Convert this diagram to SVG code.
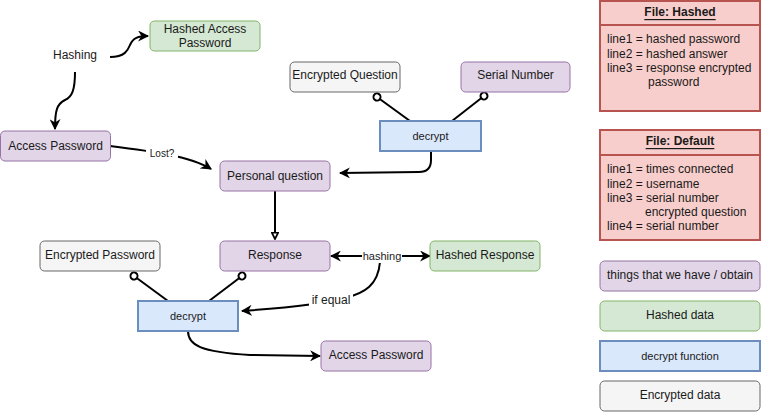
<svg xmlns="http://www.w3.org/2000/svg" width="762" height="412" viewBox="0 0 762 412">
<style>
text{font-family:"Liberation Sans",Arial,sans-serif;font-size:12px;fill:#1a1a1a;text-anchor:middle;dominant-baseline:central}
.purple{fill:#e1d5e7;stroke:#9673a6;stroke-width:1}
.green{fill:#d5e8d4;stroke:#82b366;stroke-width:1}
.gray{fill:#f5f5f5;stroke:#666666;stroke-width:1}
.blue{fill:#dae8fc;stroke:#6c8ebf;stroke-width:2}
.red{fill:#f8cecc;stroke:#b85450;stroke-width:2}
.edge{fill:none;stroke:#000;stroke-width:2}
.lbl{fill:#fff;stroke:none}
.sm{font-size:11px}
.left{text-anchor:start}
.title{font-weight:bold;text-decoration:underline}
</style>
<defs>
<marker id="arr" viewBox="0 0 10 10" refX="9" refY="5" markerWidth="11" markerHeight="11" markerUnits="userSpaceOnUse" orient="auto-start-reverse">
<path d="M0,0 L10,5 L0,10 L3,5 z" fill="#000"/>
</marker>
<marker id="open" viewBox="0 0 10 10" refX="9" refY="5" markerWidth="8" markerHeight="8" markerUnits="userSpaceOnUse" orient="auto">
<path d="M1,1 L9,5 L1,9 z" fill="#fff" stroke="#000" stroke-width="2.2"/>
</marker>
<marker id="oval" viewBox="0 0 10 10" refX="5" refY="5" markerWidth="10" markerHeight="10" markerUnits="userSpaceOnUse" orient="auto">
<circle cx="5" cy="5" r="3.5" fill="#fff" stroke="#000" stroke-width="2"/>
</marker>
</defs>
<g id="connectors">
<path class="edge" d="M110,57 C125,57 128,50 130,45 C133,38 138,36 148,36" marker-end="url(#arr)"/>
<path class="edge" d="M75,72 C75,90 72,97 65,100 C57,104 55,110 55,129" marker-end="url(#arr)"/>
<path class="edge" d="M110,146 C150,151 190,156 211,169" marker-end="url(#arr)"/>
<rect class="lbl" x="146" y="146" width="32" height="14"/>
<text x="162" y="153" class="sm" style="font-size:10px">Lost?</text>
<path class="edge" d="M431,151 L431,160 Q431,172 419,172 L340,173" marker-end="url(#arr)"/>
<path class="edge" d="M275,191 L275,239" marker-end="url(#open)"/>
<path class="edge" d="M410,121 L377,97" marker-end="url(#oval)"/>
<path class="edge" d="M452,121 L484,96" marker-end="url(#oval)"/>
<path class="edge" d="M168,301 L134,276" marker-end="url(#oval)"/>
<path class="edge" d="M209,301 L242,276" marker-end="url(#oval)"/>
<path class="edge" d="M380,262 C378,285 365,293 345,298 C320,305 270,309 242,311" marker-end="url(#arr)"/>
<path class="edge" d="M331,256 L430,256" marker-start="url(#arr)" marker-end="url(#arr)"/>
<rect class="lbl" x="362" y="249" width="40" height="14"/>
<text x="382" y="256" class="sm">hashing</text>
<rect class="lbl" x="309" y="293" width="44" height="15"/>
<text x="331" y="300">if equal</text>
<path class="edge" d="M188,331 C188,345 200,352 250,355 L320,356" marker-end="url(#arr)"/>
</g>
<g id="hashing"><text x="75" y="55">Hashing</text></g>
<g id="hashed-access-password"><rect class="green" x="150" y="21" width="110" height="30" rx="4.5"/><text x="205" y="28.5">Hashed Access</text><text x="205" y="42.5">Password</text></g>
<g id="access-password"><rect class="purple" x="0.5" y="131" width="110" height="30" rx="4.5"/><text x="55.5" y="145.5">Access Password</text></g>
<g id="personal-question"><rect class="purple" x="220" y="161" width="110" height="30" rx="4.5"/><text x="275" y="175.5">Personal question</text></g>
<g id="encrypted-question"><rect class="gray" x="290" y="62" width="110" height="30" rx="4.5"/><text x="345" y="74.5">Encrypted Question</text></g>
<g id="serial-number"><rect class="purple" x="461" y="62" width="109" height="30" rx="4.5"/><text x="515.5" y="74.5">Serial Number</text></g>
<g id="decrypt-top"><rect class="blue" x="380" y="121" width="101" height="30"/><text x="430.5" y="136" class="sm">decrypt</text></g>
<g id="response"><rect class="purple" x="220" y="241" width="110" height="30" rx="4.5"/><text x="275" y="254.5">Response</text></g>
<g id="encrypted-password"><rect class="gray" x="40" y="241" width="120" height="30" rx="4.5"/><text x="100" y="254.5">Encrypted Password</text></g>
<g id="hashed-response"><rect class="green" x="430" y="241" width="110" height="30" rx="4.5"/><text x="485" y="254.5">Hashed Response</text></g>
<g id="decrypt-bottom"><rect class="blue" x="138" y="301" width="100" height="30"/><text x="188" y="316" class="sm">decrypt</text></g>
<g id="access-password-2"><rect class="purple" x="321" y="341" width="110" height="30" rx="4.5"/><text x="376" y="354.5">Access Password</text></g>
<g id="file-hashed">
<rect class="red" x="600" y="1" width="160" height="110"/>
<line x1="600" y1="25" x2="760" y2="25" stroke="#b85450" stroke-width="2"/>
<text x="680" y="12" class="title">File: Hashed</text>
<text x="607" y="39" class="left">line1 = hashed password</text>
<text x="607" y="54" class="left">line2 = hashed answer</text>
<text x="607" y="68" class="left">line3 = response encrypted</text>
<text x="648" y="82" class="left">password</text>
</g>
<g id="file-default">
<rect class="red" x="600" y="130" width="160" height="110"/>
<line x1="600" y1="155" x2="760" y2="155" stroke="#b85450" stroke-width="2"/>
<text x="680" y="141" class="title">File: Default</text>
<text x="607" y="169" class="left">line1 = times connected</text>
<text x="607" y="184" class="left">line2 = username</text>
<text x="607" y="198" class="left">line3 = serial number</text>
<text x="645" y="212" class="left">encrypted question</text>
<text x="607" y="226" class="left">line4 = serial number</text>
</g>
<g id="legend-have"><rect class="purple" x="600" y="261" width="160" height="30" rx="4.5"/><text x="680" y="274.5">things that we have / obtain</text></g>
<g id="legend-hashed"><rect class="green" x="600" y="301" width="160" height="30" rx="4.5"/><text x="680" y="314.5">Hashed data</text></g>
<g id="legend-decrypt"><rect class="blue" x="600" y="341" width="160" height="30"/><text x="680" y="356" class="sm">decrypt function</text></g>
<g id="legend-encrypted"><rect class="gray" x="600" y="381" width="160" height="30" rx="4.5"/><text x="680" y="394.5">Encrypted data</text></g>
</svg>
